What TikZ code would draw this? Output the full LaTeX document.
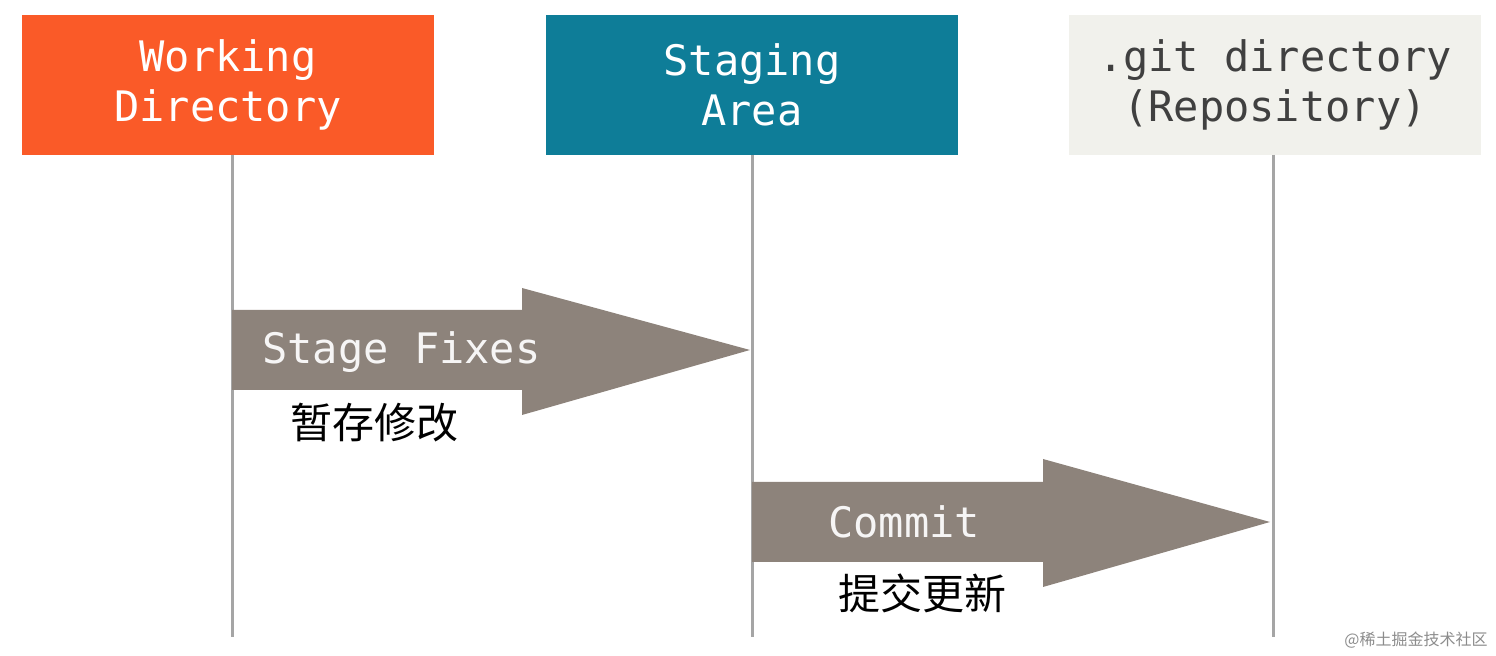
\documentclass[tikz,border=0pt]{standalone}
\usepackage{fontspec}
\setmonofont{DejaVu Sans Mono}
\newfontfamily\cjk{Noto Sans CJK SC}
\definecolor{wdcol}{HTML}{FA5A28}
\definecolor{sacol}{HTML}{0E7D98}
\definecolor{gitcol}{HTML}{F1F1EC}
\definecolor{arrcol}{HTML}{8D837B}
\definecolor{linecol}{HTML}{A5A5A5}
\begin{document}
\begin{tikzpicture}[x=0.5pt,y=-0.5pt,
  box/.style={minimum width=206pt,minimum height=70pt,inner sep=0pt,align=center,font=\ttfamily\fontsize{21}{25}\selectfont},
  life/.style={draw=linecol,line width=1.5pt},
  bigarrow/.style={fill=arrcol},
  albl/.style={font=\ttfamily\fontsize{21}{25}\selectfont,text=white!92!arrcol,anchor=west,inner sep=0pt},
  cn/.style={font=\cjk\fontsize{21}{25}\selectfont,anchor=west,inner sep=0pt}]
\useasboundingbox (0,0) rectangle (1496,656);
\node[box,fill=wdcol,text=white] (wd) at (228,85) {Working\\Directory};
\node[box,fill=sacol,text=white] (sa) at (752,85) {Staging\\Area};
\node[box,fill=gitcol,text=black!75] (git) at (1275,85) {.git directory\\(Repository)};
\coordinate (wdE) at (232,637);
\coordinate (saE) at (752,637);
\coordinate (gitE) at (1273,637);
\draw[life] (232,155) -- (wdE);
\draw[life] (752,155) -- (saE);
\draw[life] (1273,155) -- (gitE);
\fill[bigarrow] (232,310) -- (522,310) -- (522,288) -- (750,350) -- (522,415) -- (522,390) -- (232,390) -- cycle;
\fill[bigarrow] (752,482) -- (1043,482) -- (1043,459) -- (1270,522) -- (1043,587) -- (1043,562) -- (752,562) -- cycle;
\node[albl] (l1) at (262,352) {Stage Fixes};
\node[cn] (c1) at (290,423) {暂存修改};
\node[albl] (l2) at (828,522) {Commit};
\node[cn] (c2) at (838,593) {提交更新};
\node[font=\cjk\fontsize{8}{10}\selectfont,text=black!45,anchor=east,inner sep=0pt] (wm) at (1488,640) {@稀土掘金技术社区};
\end{tikzpicture}
\end{document}
